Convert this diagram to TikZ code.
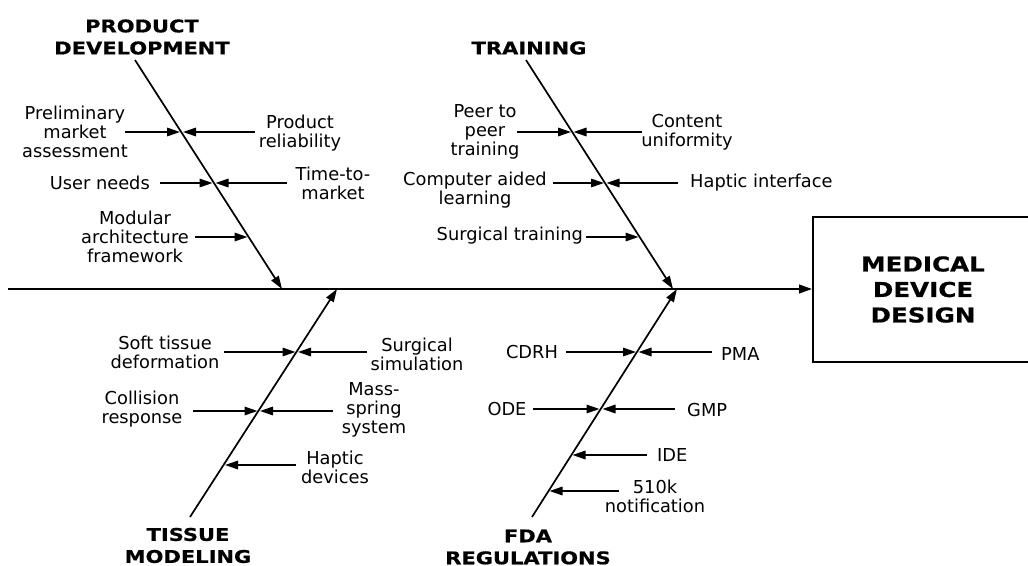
\documentclass[tikz,border=0pt]{standalone}
\usepackage{fontspec}
\setmainfont{DejaVu Sans}
\newfontfamily\hfont{DejaVu Sans}[FakeStretch=1.2, BoldFeatures={FakeBold=0.6}]
\usetikzlibrary{arrows.meta}
\newcommand\subarrow[4]{%
  \coordinate (#1s) at (#2,#4);
  \coordinate (#1e) at (#3,#4);
  \draw[arr] (#1s) -- (#1e);}
\begin{document}
\begin{tikzpicture}[x=1pt,y=-1pt,
  lbl/.style={inner sep=0pt, align=center, font=\fontsize{17.8}{19}\selectfont},
  ttl/.style={inner sep=0pt, align=center, font=\hfont\bfseries\fontsize{17.5}{22}\selectfont},
  arr/.style={line width=1.6pt, -{Triangle[length=13pt,width=8.5pt]}},
  bone/.style={line width=1.7pt, -{Triangle[length=13pt,width=8.5pt]}}]
\useasboundingbox (0,0) rectangle (1028,565);
\clip (0,0) rectangle (1028,565);

% effect box and spine
\node[draw, line width=1.7pt, minimum width=220pt, minimum height=145pt, inner sep=0pt,
  align=center, font=\hfont\bfseries\fontsize{20.5}{25.5}\selectfont] (box) at (923,289.5)
  {MEDICAL\\DEVICE\\DESIGN};
\coordinate (sp0) at (8,289);
\draw[line width=2.1pt, -{Triangle[length=13pt,width=8.5pt]}] (sp0) -- (sp0 -| box.west);

% bones
\coordinate (pdS) at (135,60);  \coordinate (pdE) at (282,289);
\coordinate (trS) at (526,60);  \coordinate (trE) at (673,289);
\coordinate (tmS) at (190,517); \coordinate (tmE) at (337,289);
\coordinate (fdS) at (532,517); \coordinate (fdE) at (677,289);
\draw[bone] (pdS) -- (pdE);
\draw[bone] (trS) -- (trE);
\draw[bone] (tmS) -- (tmE);
\draw[bone] (fdS) -- (fdE);

% titles
\node[ttl] (tpd) at (142,37) {PRODUCT\\DEVELOPMENT};
\node[ttl] (ttr) at (529,48) {TRAINING};
\node[ttl] (ttm) at (188,545.5) {TISSUE\\MODELING};
\node[ttl] (tfd) at (528,547) {FDA\\REGULATIONS};

% product development
\subarrow{a1}{125}{180}{132}
\subarrow{a2}{255}{183}{132}
\subarrow{a3}{160}{212.5}{183}
\subarrow{a4}{287}{215.5}{183}
\subarrow{a5}{195}{247.5}{237}
\node[lbl] (la1) at (75,132) {Preliminary\\market\\assessment};
\node[lbl] (la2) at (300,133.5) {Product\\reliability};
\node[lbl, anchor=east] (la3) at (150,183) {User needs};
\node[lbl] (la4) at (333,183) {Time-to-\\market};
\node[lbl] (la5) at (135,237) {Modular\\architecture\\framework};

% training
\subarrow{b1}{517}{571}{132}
\subarrow{b2}{642}{573.5}{132}
\subarrow{b3}{553}{604}{183}
\subarrow{b4}{678}{606.5}{183}
\subarrow{b5}{586}{638.5}{237}
\node[lbl] (lb1) at (485,132) {Peer to\\peer\\training};
\node[lbl] (lb2) at (687,132.5) {Content\\uniformity};
\node[lbl] (lb3) at (475,190) {Computer aided\\learning};
\node[lbl, anchor=west] (lb4) at (690,183) {Haptic interface};
\node[lbl, anchor=east] (lb5) at (583,236) {Surgical training};

% tissue modeling
\subarrow{c1}{224}{295.5}{352}
\subarrow{c2}{367}{298}{352}
\subarrow{c3}{193}{257.5}{411}
\subarrow{c4}{333}{260}{411}
\subarrow{c5}{296}{225}{465}
\node[lbl] (lc1) at (165,352.5) {Soft tissue\\deformation};
\node[lbl] (lc2) at (417,354) {Surgical\\simulation};
\node[lbl] (lc3) at (142,409.5) {Collision\\response};
\node[lbl] (lc4) at (374,410) {Mass-\\spring\\system};
\node[lbl] (lc5) at (335,467.5) {Haptic\\devices};

% FDA regulations
\subarrow{d1}{566}{636}{352}
\subarrow{d2}{712}{638.5}{352}
\subarrow{d3}{533}{599.5}{409}
\subarrow{d4}{675}{602.5}{409}
\subarrow{d5}{647}{572.5}{455}
\subarrow{d6}{619}{549.5}{491}
\node[lbl] (ld1) at (532,352) {CDRH};
\node[lbl, anchor=west] (ld2) at (721,354) {PMA};
\node[lbl] (ld3) at (507,409) {ODE};
\node[lbl, anchor=west] (ld4) at (687,410) {GMP};
\node[lbl, anchor=west] (ld5) at (657,455) {IDE};
\node[lbl] (ld6) at (655,496) {510k\\notification};
\end{tikzpicture}
\end{document}
